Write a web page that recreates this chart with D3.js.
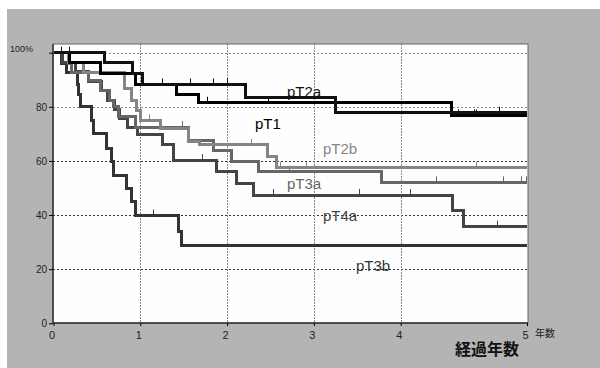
<!DOCTYPE html>
<html>
<head>
<meta charset="utf-8">
<script src="https://cdn.jsdelivr.net/npm/d3@7"></script>
<style>
  body { margin: 0; background: #fff; }
  text { font-family: "Liberation Sans", Arial, sans-serif; }
</style>
</head>
<body>
<div id="chart"></div>
<script>
// Kaplan-Meier style steps: years after surgery and survival (%)
var pT1Years = [0, 0.19, 0.54, 0.95, 1.42, 1.67, 4.40, 5];
var pT1Values = [100, 96.3, 92.4, 88.3, 84.6, 81.5, 76.8, 76.8];
var pT1Censored = [1.77, 2.47, 4.45, 4.58, 4.60];

var pT2aYears = [0, 0.59, 0.91, 1.02, 2.21, 3.25, 5];
var pT2aValues = [100, 96.3, 92.4, 88.3, 83.3, 77.8, 77.8];
var pT2aCensored = [0.09, 0.18, 1.25, 1.57, 1.84, 2.0, 4.78];

var pT2bYears = [0, 0.17, 0.35, 0.82, 0.9, 0.96, 1.0, 1.23, 1.55, 1.68, 2.47, 2.57, 5];
var pT2bValues = [100, 96.3, 92.6, 86.8, 82.5, 78.8, 75, 72, 67.3, 65.9, 61.5, 57.5, 57.5];
var pT2bCensored = [1.1, 2.28, 2.61, 2.91, 4.6];

var pT3aYears = [0, 0.17, 0.21, 0.4, 0.54, 0.65, 0.69, 0.75, 0.94, 1.55, 1.84, 2.05, 2.36, 3.78, 5];
var pT3aValues = [100, 96.1, 92.8, 89.9, 86.2, 82.5, 80, 76.4, 72.5, 67.5, 63.8, 59.7, 56, 52.1, 52.1];
var pT3aCensored = [1.48, 2.71, 4.28, 4.81, 4.95, 4.99];

var pT4aYears = [0, 0.1, 0.25, 0.4, 0.55, 0.62, 0.7, 0.76, 0.85, 0.97, 1.25, 1.38, 1.88, 2.11, 2.3, 4.41, 4.50, 5];
var pT4aValues = [100, 96.5, 93, 89.5, 86, 82.5, 79, 75.5, 72.5, 69.6, 65.9, 60.3, 56, 51.7, 47.4, 41.6, 35.7, 35.7];
var pT4aCensored = [1.71, 2.53, 3.52, 4.07, 4.76];

var pT3bYears = [0, 0.095, 0.15, 0.275, 0.29, 0.306, 0.44, 0.46, 0.61, 0.67, 0.69, 0.84, 0.9, 0.95, 1.44, 1.48, 5];
var pT3bValues = [100, 96.1, 92.6, 88.3, 84.5, 80, 74.9, 70.2, 64.7, 59.7, 54.8, 49.9, 44.9, 39.8, 33.9, 28.6, 28.6];
var pT3bCensored = [1.15];

var seriesNames = ["pT3b", "pT4a", "pT3a", "pT2b", "pT1", "pT2a"];
var yTicks = [0, 20, 40, 60, 80, 100];
var xTicks = [0, 1, 2, 3, 4, 5];

// drawing styles, one per series (same order as seriesNames)
var seriesColors = ["#333333", "#444444", "#666666", "#858585", "#000000", "#111111"];
var labelPos = [[356, 271], [323, 221], [287, 189], [323, 154], [255, 129], [287, 97]];

var series = [
  {name: "pT3b", years: pT3bYears, values: pT3bValues, censored: pT3bCensored},
  {name: "pT4a", years: pT4aYears, values: pT4aValues, censored: pT4aCensored},
  {name: "pT3a", years: pT3aYears, values: pT3aValues, censored: pT3aCensored},
  {name: "pT2b", years: pT2bYears, values: pT2bValues, censored: pT2bCensored},
  {name: "pT1", years: pT1Years, values: pT1Values, censored: pT1Censored},
  {name: "pT2a", years: pT2aYears, values: pT2aValues, censored: pT2aCensored}
];

var svgWidth = 600;
var svgHeight = 368;

var svg = d3.select("#chart")
  .append("svg")
  .attr("width", svgWidth)
  .attr("height", svgHeight);

// gray panel behind the plot
svg.append("rect")
  .attr("x", 7)
  .attr("y", 9)
  .attr("width", svgWidth - 7)
  .attr("height", svgHeight - 9)
  .attr("fill", "#b4b4b4");

// the last year on the original axis is stretched to the right edge
var xScale = d3.scaleLinear().domain([0, 4, 5]).range([53.5, 400.7, 527]);
var yScale = d3.scaleLinear().domain([0, 100]).range([323.3, 52.7]);

// white plot area
svg.append("rect")
  .attr("x", 53)
  .attr("y", 44)
  .attr("width", 475)
  .attr("height", 279)
  .attr("fill", "#fefefe")
  .attr("stroke", "#666")
  .attr("stroke-width", 1);

// horizontal grid
svg.append("g")
  .selectAll("line")
  .data(yTicks.filter(d => d > 0))
  .enter()
  .append("line")
  .attr("x1", 53)
  .attr("x2", 528)
  .attr("y1", d => Math.round(yScale(d)) + 0.5)
  .attr("y2", d => Math.round(yScale(d)) + 0.5)
  .attr("stroke", d => d >= 80 ? "#8a8a8a" : "#333")
  .attr("stroke-dasharray", "2,2");

// vertical grid
svg.append("g")
  .selectAll("line")
  .data(xTicks.filter(d => d > 0 && d < 5))
  .enter()
  .append("line")
  .attr("x1", d => Math.round(xScale(d)) + 0.5)
  .attr("x2", d => Math.round(xScale(d)) + 0.5)
  .attr("y1", 44)
  .attr("y2", 323)
  .attr("stroke", "#888")
  .attr("stroke-dasharray", "2,1");

// axes
var leftAxis = d3.axisLeft(yScale)
  .tickValues(yTicks)
  .tickSize(4)
  .tickPadding(2)
  .tickFormat(d => d === 100 ? "" : d);

var yAxis = svg.append("g")
  .attr("transform", "translate(53, 0)")
  .call(leftAxis);
yAxis.select(".domain").attr("stroke", "#333").attr("stroke-width", 1.5)
  .attr("d", "M0,44V323");
yAxis.selectAll("text").attr("font-size", 10).attr("fill", "#222")
  .attr("font-family", "'Liberation Sans', Arial, sans-serif");

var bottomAxis = d3.axisBottom(xScale)
  .tickValues(xTicks)
  .tickSize(3)
  .tickPadding(5)
  .tickFormat(d => d);

var xAxis = svg.append("g")
  .attr("transform", "translate(0, 323)")
  .call(bottomAxis);
xAxis.select(".domain").attr("stroke", "#333").attr("stroke-width", 1.5)
  .attr("d", "M53,0H528");
xAxis.selectAll("text").attr("font-size", 11).attr("fill", "#222")
  .attr("dx", -2)
  .attr("font-family", "'Liberation Sans', Arial, sans-serif");

svg.append("text")
  .attr("x", 10)
  .attr("y", 52)
  .attr("font-size", 9)
  .attr("fill", "#222")
  .text("100%");

svg.append("text")
  .attr("x", 535)
  .attr("y", 337)
  .attr("font-size", 10)
  .attr("fill", "#222")
  .style("font-family", "'Noto Sans CJK JP', sans-serif")
  .text("年数");

svg.append("text")
  .attr("x", 455)
  .attr("y", 355)
  .attr("font-size", 16)
  .attr("font-weight", "bold")
  .attr("fill", "#111")
  .style("font-family", "'Noto Sans CJK JP', sans-serif")
  .text("経過年数");

// survival curves
var stepLine = d3.line()
  .x(d => xScale(d[0]))
  .y(d => yScale(d[1]))
  .curve(d3.curveStepAfter);

series.forEach(function(s, i) {
  var pts = s.years.map((t, j) => [t, s.values[j]]);

  svg.append("path")
    .datum(pts)
    .attr("d", stepLine)
    .attr("fill", "none")
    .attr("stroke", seriesColors[i])
    .attr("stroke-width", 3)
    .attr("shape-rendering", "crispEdges");

  // censored marks
  svg.append("g")
    .selectAll("line")
    .data(s.censored)
    .enter()
    .append("line")
    .attr("x1", t => Math.round(xScale(t)) + 0.5)
    .attr("x2", t => Math.round(xScale(t)) + 0.5)
    .attr("y1", t => yScale(s.values[d3.bisectRight(s.years, t) - 1]) - 1)
    .attr("y2", t => yScale(s.values[d3.bisectRight(s.years, t) - 1]) - 6)
    .attr("stroke", seriesColors[i])
    .attr("stroke-width", 1);

  svg.append("text")
    .attr("x", labelPos[i][0])
    .attr("y", labelPos[i][1])
    .attr("font-size", 15)
    .attr("fill", seriesColors[i])
    .text(s.name);
});
</script>
</body>
</html>
